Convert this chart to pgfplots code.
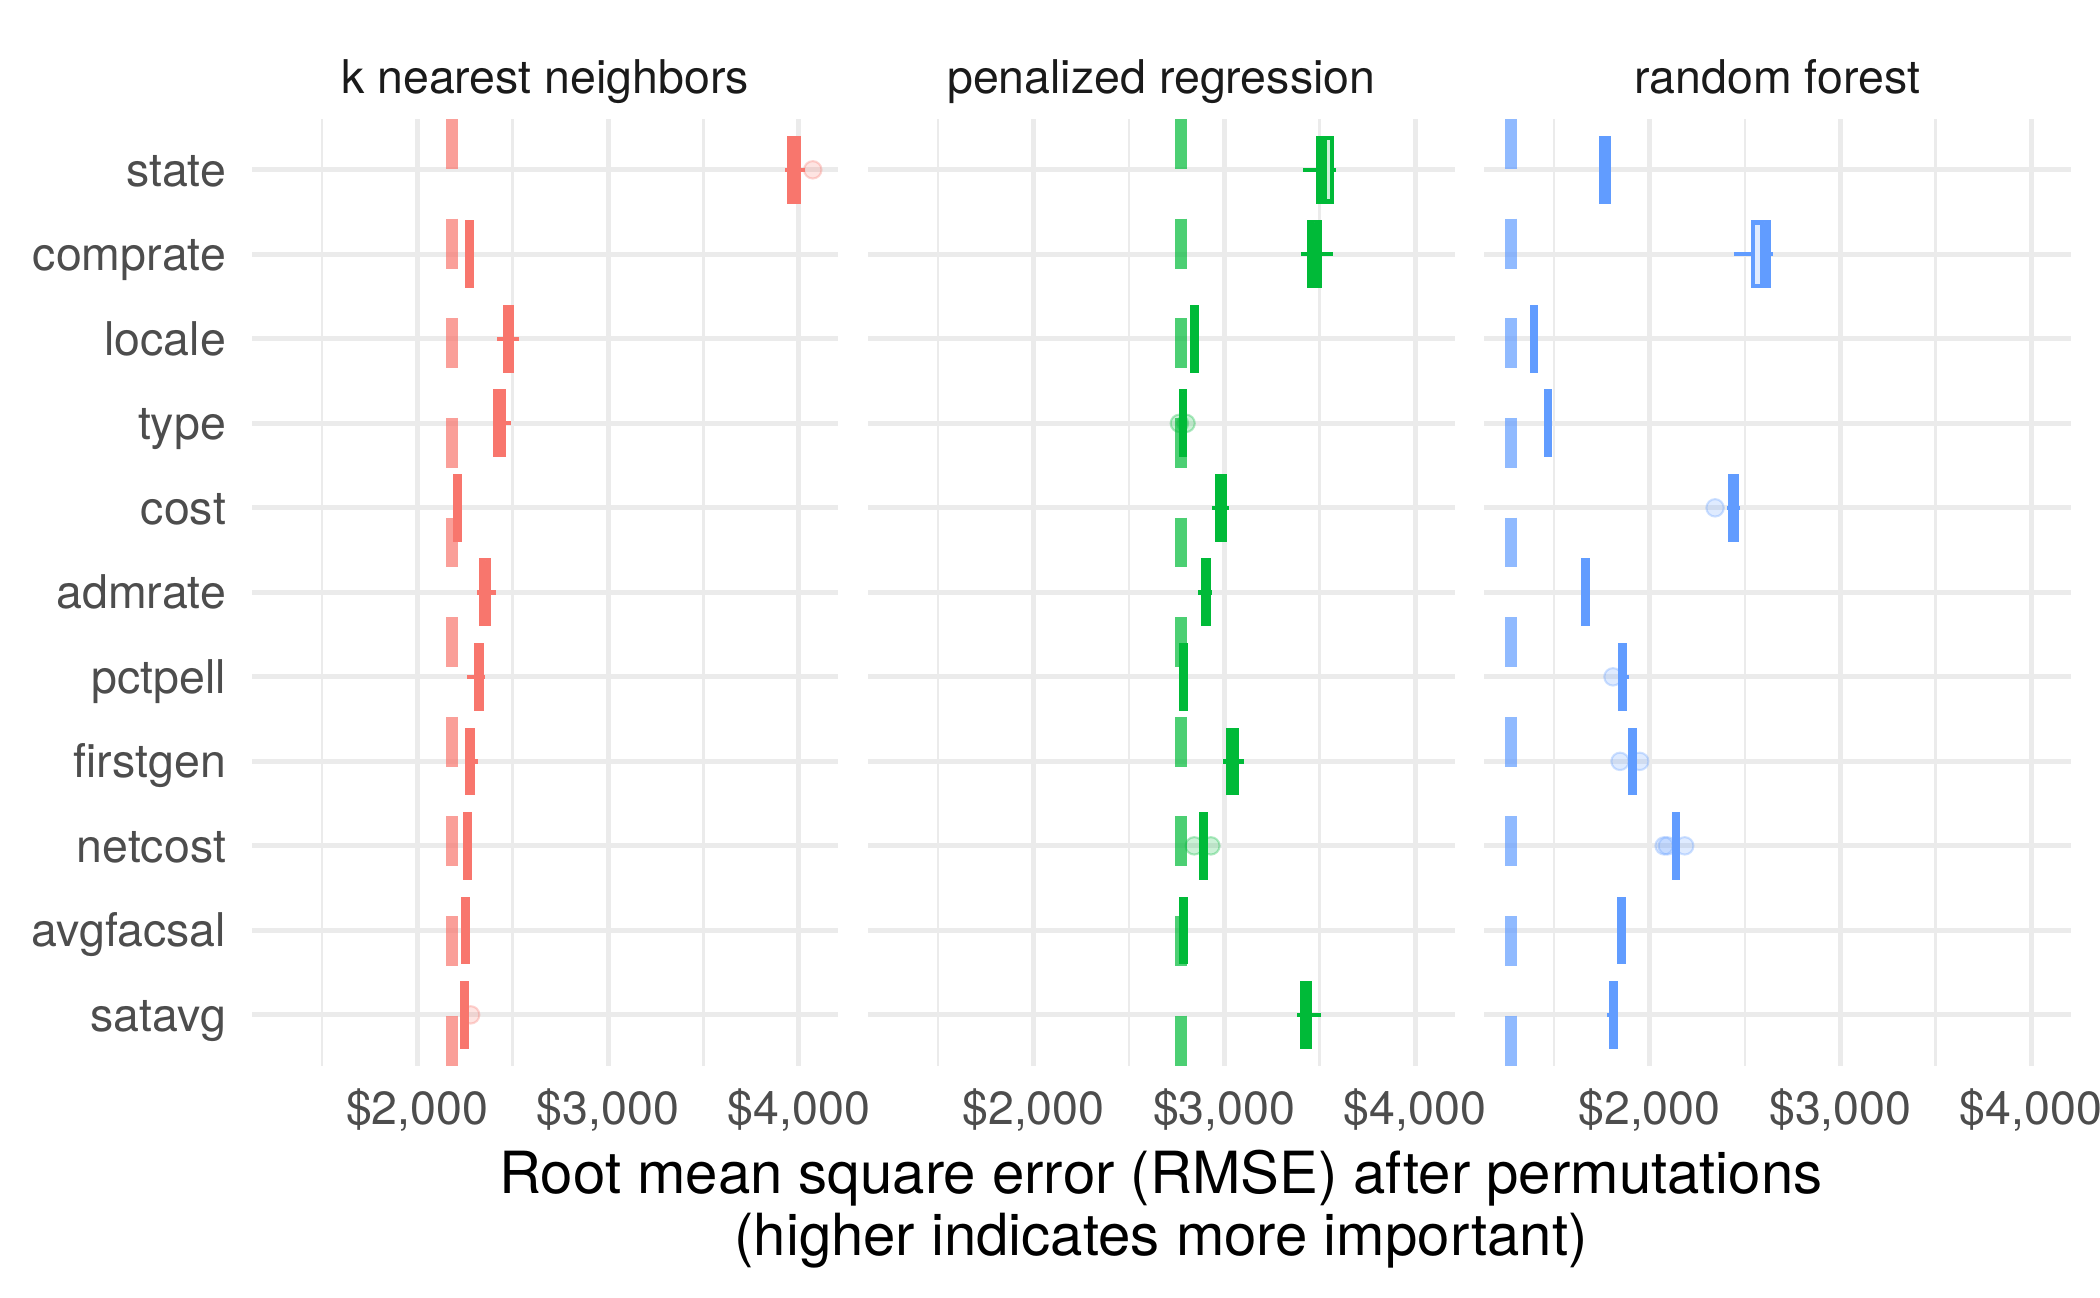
\documentclass[border=0pt]{standalone}
\usepackage{fontspec}
\setmainfont{TeX Gyre Heros}
\usepackage{pgfplots}
\usepackage{pgfplotstable}
\pgfplotsset{compat=1.18}
\usepgfplotslibrary{statistics}

\definecolor{knn}{HTML}{F8766D}
\definecolor{pen}{HTML}{00BA38}
\definecolor{rf}{HTML}{619CFF}
\definecolor{gridc}{HTML}{EBEBEB}
\definecolor{tickc}{HTML}{4D4D4D}
\definecolor{stripc}{HTML}{1A1A1A}

% columns: row position (1 = state, top), lower whisker, lower quartile, median, upper quartile, upper whisker
\pgfplotstableread{
pos lw q1 med q3 uw
1 3925 3950 3975 3998 4030
2 2258 2260 2272 2284 2286
3 2417 2461 2479 2497 2531
4 2396 2410 2432 2455 2492
5 2198 2200 2212 2223 2225
6 2315 2335 2356 2377 2413
7 2263 2308 2324 2340 2355
8 2260 2262 2276 2290 2320
9 2248 2250 2262 2275 2277
10 2240 2241 2253 2265 2266
11 2236 2237 2249 2261 2262
}\knntab

\pgfplotstableread{
pos lw q1 med q3 uw
1 3414 3492 3518 3564 3584
2 3400 3443 3472 3501 3570
3 2832 2833 2845 2856 2858
4 2770 2772 2783 2795 2797
5 2936 2964 2983 3003 3025
6 2861 2889 2903 2919 2936
7 2775 2776 2788 2799 2800
8 2995 3020 3040 3064 3102
9 2876 2877 2890 2902 2903
10 2774 2775 2786 2797 2798
11 3379 3409 3430 3450 3506
}\pentab

\pgfplotstableread{
pos lw q1 med q3 uw
1 1748 1749 1765 1786 1800
2 2444 2543 2603 2625 2650
3 1382 1383 1395 1406 1407
4 1456 1457 1468 1480 1481
5 2405 2422 2440 2456 2475
6 1652 1653 1665 1678 1679
7 1848 1849 1860 1873 1892
8 1898 1899 1910 1922 1923
9 2127 2128 2140 2151 2152
10 1841 1842 1854 1866 1867
11 1778 1801 1812 1823 1824
}\rftab

\pgfplotsset{
  panel/.style={
    scale only axis, width=141.3pt, height=228pt,
    xmin=1133, xmax=4207, ymin=0.4, ymax=11.6, y dir=reverse,
    axis line style={draw=none},
    tick style={draw=none},
    xtick={2000,3000,4000}, minor xtick={1500,2500,3500},
    xticklabels={{\$2,000},{\$3,000},{\$4,000}},
    ytick={1,2,...,11},
    xmajorgrids=true, xminorgrids=true, ymajorgrids=true,
    major grid style={line width=1.2pt, draw=gridc},
    minor grid style={line width=0.6pt, draw=gridc},
    tick label style={font=\fontsize{11.2}{13.4}\selectfont, text=tickc},
    xticklabel style={yshift=-2pt},
    yticklabel style={anchor=base east, yshift=-3.9pt, xshift=-2.7pt},
    title style={at={(0.5,1)}, anchor=base, yshift=0.2pt, font=\fontsize{11.2}{13.4}\selectfont, text=stripc},
    boxplot/draw direction=x,
    boxplot/box extend=0.75,
    boxplot/whisker extend=0,
    boxplot/every median/.style={line width=2.07pt},
  },
  boxsty/.style={draw=#1, fill=#1!20, line width=1.04pt, solid, mark=none},
  outl/.style={only marks, mark=*, mark size=2.1pt, mark options={draw=#1, fill=#1, fill opacity=0.2, draw opacity=0.3, line width=0.5pt}},
  base/.style={draw=#1, draw opacity=0.7, line width=2.9pt, dash pattern=on 12pt off 12pt, mark=none},
}

\newcommand{\drawboxes}[2]{%
  \pgfplotstablegetrowsof{#1}%
  \pgfmathtruncatemacro{\nrows}{\pgfplotsretval-1}%
  \pgfplotsforeachungrouped \r in {0,...,\nrows}{%
    \pgfplotstablegetelem{\r}{pos}\of#1\let\Vpos\pgfplotsretval
    \pgfplotstablegetelem{\r}{lw}\of#1\let\Vlw\pgfplotsretval
    \pgfplotstablegetelem{\r}{q1}\of#1\let\Vqa\pgfplotsretval
    \pgfplotstablegetelem{\r}{med}\of#1\let\Vmed\pgfplotsretval
    \pgfplotstablegetelem{\r}{q3}\of#1\let\Vqb\pgfplotsretval
    \pgfplotstablegetelem{\r}{uw}\of#1\let\Vuw\pgfplotsretval
    \edef\doplot{\noexpand\addplot[boxsty=#2, boxplot prepared={draw position=\Vpos, lower whisker=\Vlw, lower quartile=\Vqa, median=\Vmed, upper quartile=\Vqb, upper whisker=\Vuw}] coordinates {};}%
    \doplot
  }%
}

\begin{document}
\begin{tikzpicture}
\useasboundingbox (0,0) rectangle (505.9pt,312.5pt);

\begin{axis}[panel, at={(60.66pt,55.8pt)}, anchor=south west,
  title={k nearest neighbors},
  yticklabels={state,comprate,locale,type,cost,admrate,pctpell,firstgen,netcost,avgfacsal,satavg}]
  \addplot[base=knn] coordinates {(2180,0.4) (2180,11.6)};
  \drawboxes{\knntab}{knn}
  \addplot[outl=knn] coordinates {(4073,1) (2280,11)};
\end{axis}

\begin{axis}[panel, at={(209.1pt,55.8pt)}, anchor=south west,
  title={penalized regression}, yticklabels={}]
  \addplot[base=pen] coordinates {(2771,0.4) (2771,11.6)};
  \drawboxes{\pentab}{pen}
  \addplot[outl=pen] coordinates {(2765,4) (2800,4) (2843,9) (2930,9)};
\end{axis}

\begin{axis}[panel, at={(357.5pt,55.8pt)}, anchor=south west,
  title={random forest}, yticklabels={}]
  \addplot[base=rf] coordinates {(1276,0.4) (1276,11.6)};
  \drawboxes{\rftab}{rf}
  \addplot[outl=rf] coordinates {(2344,5) (1809,7) (1846,8) (1949,8) (2077,9) (2094,9) (2185,9)};
\end{axis}

\node[align=center, font=\fontsize{14}{14.9}\selectfont, text=black] at (279.7pt,21.15pt)
  {Root mean square error (RMSE) after permutations\\(higher indicates more important)};
\end{tikzpicture}
\end{document}
